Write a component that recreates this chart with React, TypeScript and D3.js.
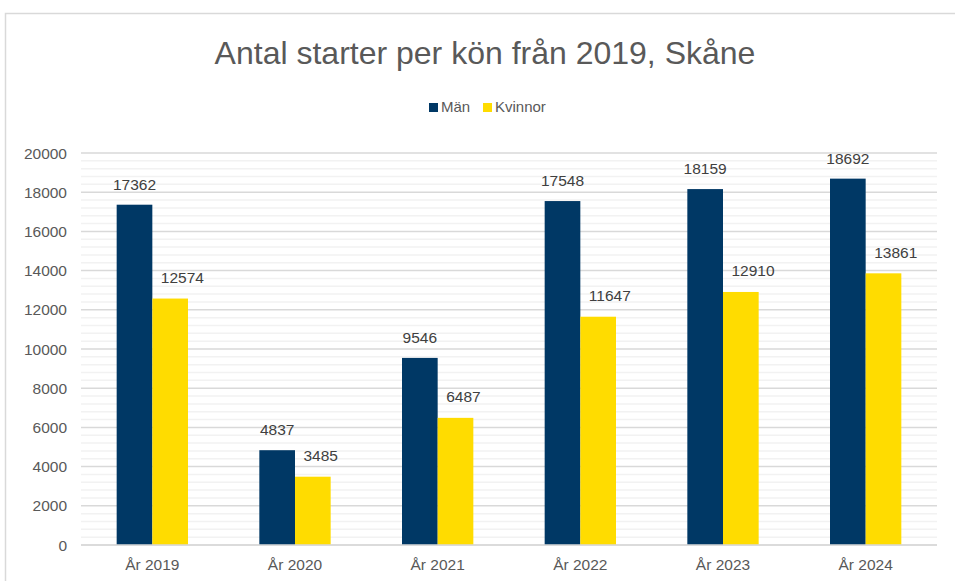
import React from "react";
import * as d3 from "d3";

const categories = ["År 2019", "År 2020", "År 2021", "År 2022", "År 2023", "År 2024"];
const seriesNames = ["Män", "Kvinnor"];
const manValues = [17362, 4837, 9546, 17548, 18159, 18692];
const kvinnorValues = [12574, 3485, 6487, 11647, 12910, 13861];
const yTicks = [0, 2000, 4000, 6000, 8000, 10000, 12000, 14000, 16000, 18000, 20000];
const colors = ["#003865", "#FFDC00"];

const W = 955;
const H = 581;
const M = { left: 81, right: 937, top: 153, bottom: 545 };
const FONT = "'Liberation Sans', Arial, sans-serif";

export default function App() {
  const x = d3
    .scaleBand<string>()
    .domain(categories)
    .range([M.left, M.right])
    .paddingInner(0.5)
    .paddingOuter(0.25);
  const inner = d3.scaleBand<string>().domain(seriesNames).range([0, x.bandwidth()]);
  const y = d3.scaleLinear().domain([0, 20000]).range([M.bottom, M.top]);
  const minorTicks = d3.range(0, 20001, 400).filter((v) => v % 2000 !== 0);
  const series = [manValues, kvinnorValues];

  return (
    <svg
      width={W}
      height={H}
      style={{ position: "absolute", left: 0, top: 0, background: "#fff" }}
      fontFamily={FONT}
    >
      <rect x={5.5} y={13.5} width={W + 10} height={H + 10} fill="#fff" stroke="#D9D9D9" strokeWidth={1.5} />
      <text x={485} y={64} textAnchor="middle" fontSize={32} fill="#595959">
        Antal starter per kön från 2019, Skåne
      </text>
      {/* legend */}
      <rect x={429} y={103} width={9} height={9} fill={colors[0]} />
      <text x={441} y={112} fontSize={15} fill="#595959">Män</text>
      <rect x={483} y={103} width={9} height={9} fill={colors[1]} />
      <text x={495} y={112} fontSize={15} fill="#595959">Kvinnor</text>

      {minorTicks.map((v) => (
        <line key={"m" + v} x1={M.left} x2={M.right} y1={y(v)} y2={y(v)} stroke="#F2F2F2" strokeWidth={1.5} />
      ))}
      {yTicks.map((v) => (
        <line key={"g" + v} x1={M.left} x2={M.right} y1={y(v)} y2={y(v)} stroke="#D9D9D9" strokeWidth={1.5} />
      ))}
      {yTicks.map((v) => (
        <text key={"t" + v} x={67} y={y(v) + 5.5} textAnchor="end" fontSize={15.5} fill="#595959">
          {v}
        </text>
      ))}

      {categories.map((c, i) => (
        <g key={c}>
          {series.map((vals, s) => {
            const bx = (x(c) as number) + (inner(seriesNames[s]) as number);
            const bw = inner.bandwidth();
            return (
              <g key={s}>
                <rect x={bx} y={y(vals[i])} width={bw} height={y(0) - y(vals[i])} fill={colors[s]} />
                {s === 0 ? (
                  <text x={bx + bw / 2} y={y(vals[i]) - 15} textAnchor="middle" fontSize={15.5} fill="#404040">
                    {vals[i]}
                  </text>
                ) : (
                  <text x={bx + 8.5} y={y(vals[i]) - 15.5} textAnchor="start" fontSize={15.5} fill="#404040">
                    {vals[i]}
                  </text>
                )}
              </g>
            );
          })}
          <text
            x={(x(c) as number) + x.bandwidth() / 2}
            y={570}
            textAnchor="middle"
            fontSize={15.5}
            fill="#595959"
          >
            {c}
          </text>
        </g>
      ))}
      <line x1={M.left} x2={M.right} y1={y(0)} y2={y(0)} stroke="#D9D9D9" strokeWidth={1.5} />
    </svg>
  );
}
